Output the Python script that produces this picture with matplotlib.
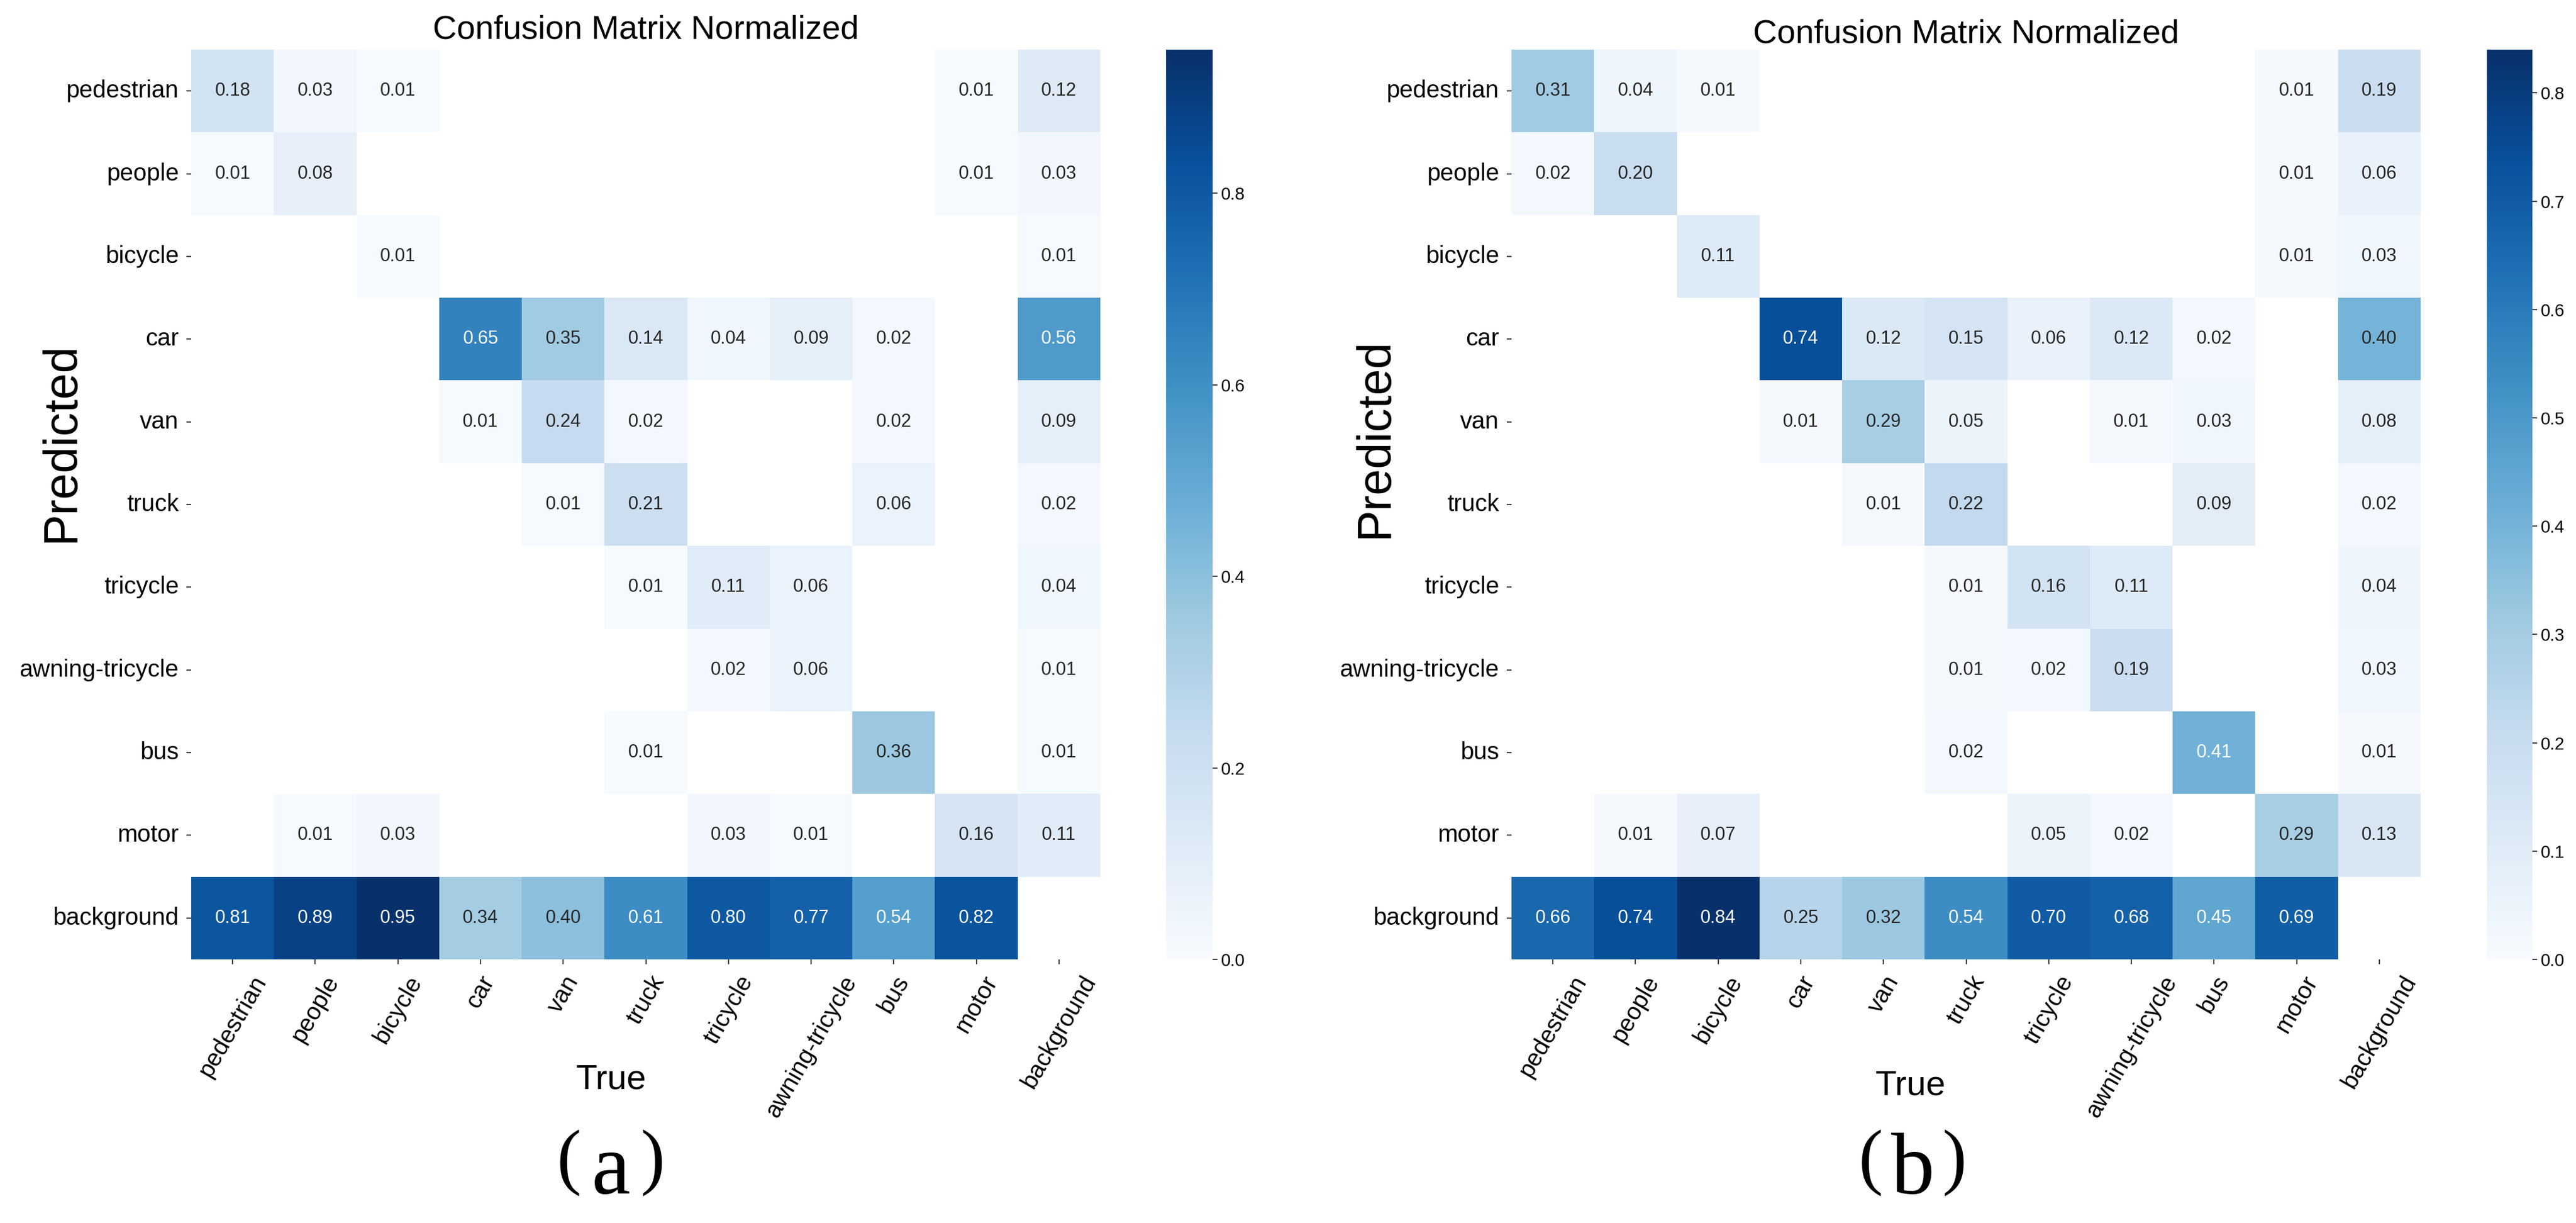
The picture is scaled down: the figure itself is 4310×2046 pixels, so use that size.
import numpy as np
import matplotlib
matplotlib.use('Agg')
import matplotlib.pyplot as plt
import seaborn as sns

plt.rcParams['font.family'] = ['Liberation Sans', 'DejaVu Sans']

names = ['pedestrian', 'people', 'bicycle', 'car', 'van', 'truck', 'tricycle',
         'awning-tricycle', 'bus', 'motor', 'background']

# randurile = Predicted, coloanele = True (0 -> celula goala)
cm_a = [
    [0.18, 0.03, 0.01, 0, 0, 0, 0, 0, 0, 0.01, 0.12],
    [0.01, 0.08, 0, 0, 0, 0, 0, 0, 0, 0.01, 0.03],
    [0, 0, 0.01, 0, 0, 0, 0, 0, 0, 0, 0.01],
    [0, 0, 0, 0.65, 0.35, 0.14, 0.04, 0.09, 0.02, 0, 0.56],
    [0, 0, 0, 0.01, 0.24, 0.02, 0, 0, 0.02, 0, 0.09],
    [0, 0, 0, 0, 0.01, 0.21, 0, 0, 0.06, 0, 0.02],
    [0, 0, 0, 0, 0, 0.01, 0.11, 0.06, 0, 0, 0.04],
    [0, 0, 0, 0, 0, 0, 0.02, 0.06, 0, 0, 0.01],
    [0, 0, 0, 0, 0, 0.01, 0, 0, 0.36, 0, 0.01],
    [0, 0.01, 0.03, 0, 0, 0, 0.03, 0.01, 0, 0.16, 0.11],
    [0.81, 0.89, 0.95, 0.34, 0.40, 0.61, 0.80, 0.77, 0.54, 0.82, 0],
]

cm_b = [
    [0.31, 0.04, 0.01, 0, 0, 0, 0, 0, 0, 0.01, 0.19],
    [0.02, 0.20, 0, 0, 0, 0, 0, 0, 0, 0.01, 0.06],
    [0, 0, 0.11, 0, 0, 0, 0, 0, 0, 0.01, 0.03],
    [0, 0, 0, 0.74, 0.12, 0.15, 0.06, 0.12, 0.02, 0, 0.40],
    [0, 0, 0, 0.01, 0.29, 0.05, 0, 0.01, 0.03, 0, 0.08],
    [0, 0, 0, 0, 0.01, 0.22, 0, 0, 0.09, 0, 0.02],
    [0, 0, 0, 0, 0, 0.01, 0.16, 0.11, 0, 0, 0.04],
    [0, 0, 0, 0, 0, 0.01, 0.02, 0.19, 0, 0, 0.03],
    [0, 0, 0, 0, 0, 0.02, 0, 0, 0.41, 0, 0.01],
    [0, 0.01, 0.07, 0, 0, 0, 0.05, 0.02, 0, 0.29, 0.13],
    [0.66, 0.74, 0.84, 0.25, 0.32, 0.54, 0.70, 0.68, 0.45, 0.69, 0],
]

cbar_ticks_a = [0.0, 0.2, 0.4, 0.6, 0.8]
cbar_ticks_b = [0.0, 0.1, 0.2, 0.3, 0.4, 0.5, 0.6, 0.7, 0.8]

W, H = 4310, 2046
fig = plt.figure(figsize=(W / 100, H / 100), dpi=100)


def px(x0, y0, w, h):
    return [x0 / W, 1 - (y0 + h) / H, w / W, h / H]


def deseneaza(cm, ax, cax, ticks, title_pad):
    arr = np.array(cm, dtype=float)
    arr[arr < 0.005] = np.nan
    sns.heatmap(arr, ax=ax, cbar_ax=cax, cmap='Blues', vmin=0.0,
                annot=True, fmt='.2f', annot_kws={'size': 22},
                xticklabels=names, yticklabels=names)
    ax.set_facecolor((1, 1, 1))
    ax.set_title('Confusion Matrix Normalized', fontsize=40, pad=title_pad)
    ax.tick_params(axis='both', length=6, width=1.5, color='#444444',
                   labelsize=29, pad=9)
    plt.setp(ax.get_xticklabels(), rotation=60, ha='center')
    plt.setp(ax.get_yticklabels(), rotation=0)
    cax.set_yticks(ticks)
    cax.tick_params(length=6, width=1.5, color='#444444', labelsize=21, pad=4)


def eticheta(xc, litera):
    # paranteze subtiri + litera serif, ca in lucrare
    yb = 1 - 1997 / H
    fig.text((xc - 70) / W, 1 - 1945 / H, '(', fontsize=88,
             family='Liberation Serif', ha='center', va='center')
    fig.text((xc + 70) / W, 1 - 1945 / H, ')', fontsize=88,
             family='Liberation Serif', ha='center', va='center')
    fig.text(xc / W, yb, litera, fontsize=105, family='Liberation Serif',
             ha='center', va='baseline')


ax1 = fig.add_axes(px(320, 83, 1521, 1522))
cax1 = fig.add_axes(px(1951, 83, 78, 1522))
deseneaza(cm_a, ax1, cax1, cbar_ticks_a, 13)

ax2 = fig.add_axes(px(2529, 83, 1521, 1522))
cax2 = fig.add_axes(px(4161, 83, 76, 1522))
deseneaza(cm_b, ax2, cax2, cbar_ticks_b, 6)

# etichete axe puse manual, ca in figura originala
fig.text(103 / W, 1 - 740 / H, 'Predicted', rotation=90, fontsize=57,
         ha='center', va='center')
fig.text(2301 / W, 1 - 733 / H, 'Predicted', rotation=90, fontsize=57,
         ha='center', va='center')
fig.text(1023 / W, 1 - 1807 / H, 'True', fontsize=42, ha='center', va='center')
fig.text(3197 / W, 1 - 1817 / H, 'True', fontsize=42, ha='center', va='center')

eticheta(1022, 'a')
eticheta(3200, 'b')

fig.savefig('out.png', dpi=100, facecolor='white')
